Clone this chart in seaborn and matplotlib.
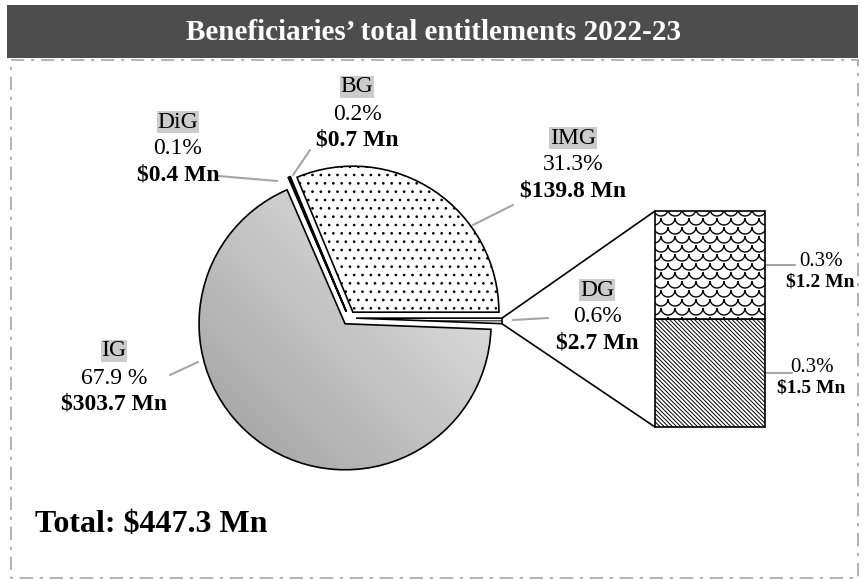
import numpy as np
import matplotlib.pyplot as plt
import seaborn as sns
from matplotlib.patches import Rectangle, ConnectionPatch
from matplotlib.collections import LineCollection

# pie slices (counter-clockwise from the right): $ Mn
names = ['DG', 'IMG', 'BG', 'DiG', 'IG']
amounts = [2.7, 139.8, 0.7, 0.4, 303.7]
pct_labels = ['0.6%', '31.3%', '0.2%', '0.1%', '67.9 %']

# DG broken down in the bar (bottom to top)
dg_amounts = [1.5, 1.2]
dg_pct = [0.3, 0.3]

total = 447.3

sns.set_theme(style='white')
plt.rcParams['font.family'] = ['Liberation Serif', 'DejaVu Serif']
plt.rcParams['text.color'] = 'black'
plt.rcParams['hatch.linewidth'] = 0.7

W, H = 867, 581
fig = plt.figure(figsize=(W / 100, H / 100), dpi=100)
ax = fig.add_axes([0, 0, 1, 1])

# title bar and dashed frame
ax.add_patch(Rectangle((7, 5), 851, 53, facecolor='#4d4d4d', edgecolor='none'))
ax.text(433, 32, 'Beneficiaries\u2019 total entitlements 2022-23', color='white',
        fontsize=21, fontweight='bold', ha='center', va='center')
ax.add_patch(Rectangle((11, 60), 847, 518, facecolor='none', edgecolor='#a6a6a6',
                       linestyle=(0, (8, 4, 2, 4)), linewidth=1.2))

# pie (y axis is flipped, so counterclock=False draws counter-clockwise on screen)
cx, cy, R = 349, 318, 146
start = amounts[0] / sum(amounts) * 360
wedges, _ = ax.pie(amounts, center=(cx, cy), radius=R, startangle=start,
                   counterclock=False, explode=[7] * len(amounts),
                   colors=['white', 'white', 'white', 'black', 'none'],
                   wedgeprops=dict(edgecolor='black', linewidth=1.2))
wedges[0].set_hatch('------')
wedges[1].set_hatch('..')

# grey gradient for IG
grad = sns.blend_palette(['#9a9a9a', '#f4f4f4'], as_cmap=True)
u = np.linspace(0, 1, 200)
Z = u[None, :] - u[:, None]
im = ax.imshow(Z, extent=(cx - R - 20, cx + R + 20, cy + R + 20, cy - R - 20),
               origin='upper', cmap=grad, aspect='auto', zorder=0)
im.set_clip_path(wedges[4])

ax.set_xlim(0, W)
ax.set_ylim(H, 0)
ax.axis('off')

# labels
box = dict(boxstyle='square,pad=0.03', facecolor='#cccccc', edgecolor='none')
label_pos = {'DG': (597, 290), 'IMG': (573, 138), 'BG': (357, 87),
             'DiG': (178, 122), 'IG': (114, 351)}
for name, amt, pct in zip(names, amounts, pct_labels):
    x, y = label_pos[name]
    ax.text(x, y, name, fontsize=17, ha='center', va='center', bbox=box)
    ax.text(x, y + 27, pct, fontsize=17, ha='center', va='center')
    ax.text(x, y + 53, f'${amt} Mn', fontsize=17, fontweight='bold',
            ha='center', va='center')

leaders = [((513, 320), (548, 318)), ((513, 205), (473, 225)),
           ((310, 150), (293, 175)), ((218, 176), (277, 181)),
           ((170, 375), (198, 362)), ((765, 265), (795, 265)),
           ((765, 373), (792, 373))]
for (x0, y0), (x1, y1) in leaders:
    ax.plot([x0, x1], [y0, y1], color='#a6a6a6', lw=1.5)

ax.text(35, 524, f'Total: ${total} Mn', fontsize=23, fontweight='bold',
        ha='left', va='center')

# bar of pie for DG
bx = fig.add_axes([655 / W, 1 - 427 / H, 110 / W, 216 / H])
hatches = ['\\\\\\\\\\\\\\\\', None]
bars = []
bottom = 0
for val, h in zip(dg_pct, hatches):
    b = bx.bar(0, val, width=1, bottom=bottom, color='white', edgecolor='black',
               hatch=h, linewidth=1.2, clip_on=False, zorder=1)
    bars.append(b[0])
    bottom += val
bx.set_xlim(-0.5, 0.5)
bx.set_ylim(0, sum(dg_pct))
bx.axis('off')

# fish-scale texture for the upper segment
t = np.linspace(0, np.pi, 20)
segs = []
for r, yc in enumerate(np.arange(200, 330, 9)):
    for xc in np.arange(640 + (r % 2) * 7, 780, 14):
        segs.append(np.column_stack([xc + 7 * np.cos(t), yc + 7 * np.sin(t)]))
scales = LineCollection(segs, colors='black', linewidths=1.0, zorder=2,
                        transform=ax.transData)
bx.add_collection(scales, autolim=False)
scales.set_clip_path(bars[1])

bar_text_pos = [(812, 368), (821, 262)]
for (x, y), amt, pct in zip(bar_text_pos, dg_amounts, dg_pct):
    ax.text(x, y, f'{pct}%', fontsize=15, ha='center', va='center')
    ax.text(x - 1, y + 20, f'${amt} Mn', fontsize=14, fontweight='bold',
            ha='center', va='center')

# connector lines from the DG slice to the bar
dg = wedges[0]
for ang, yb in [(dg.theta1, sum(dg_pct)), (dg.theta2, 0)]:
    px = dg.center[0] + dg.r * np.cos(np.radians(ang))
    py = dg.center[1] + dg.r * np.sin(np.radians(ang))
    fig.add_artist(ConnectionPatch(xyA=(px, py), coordsA=ax.transData,
                                   xyB=(-0.5, yb), coordsB=bx.transData,
                                   color='black', lw=1.2))

fig.savefig('out.png', dpi=100)
